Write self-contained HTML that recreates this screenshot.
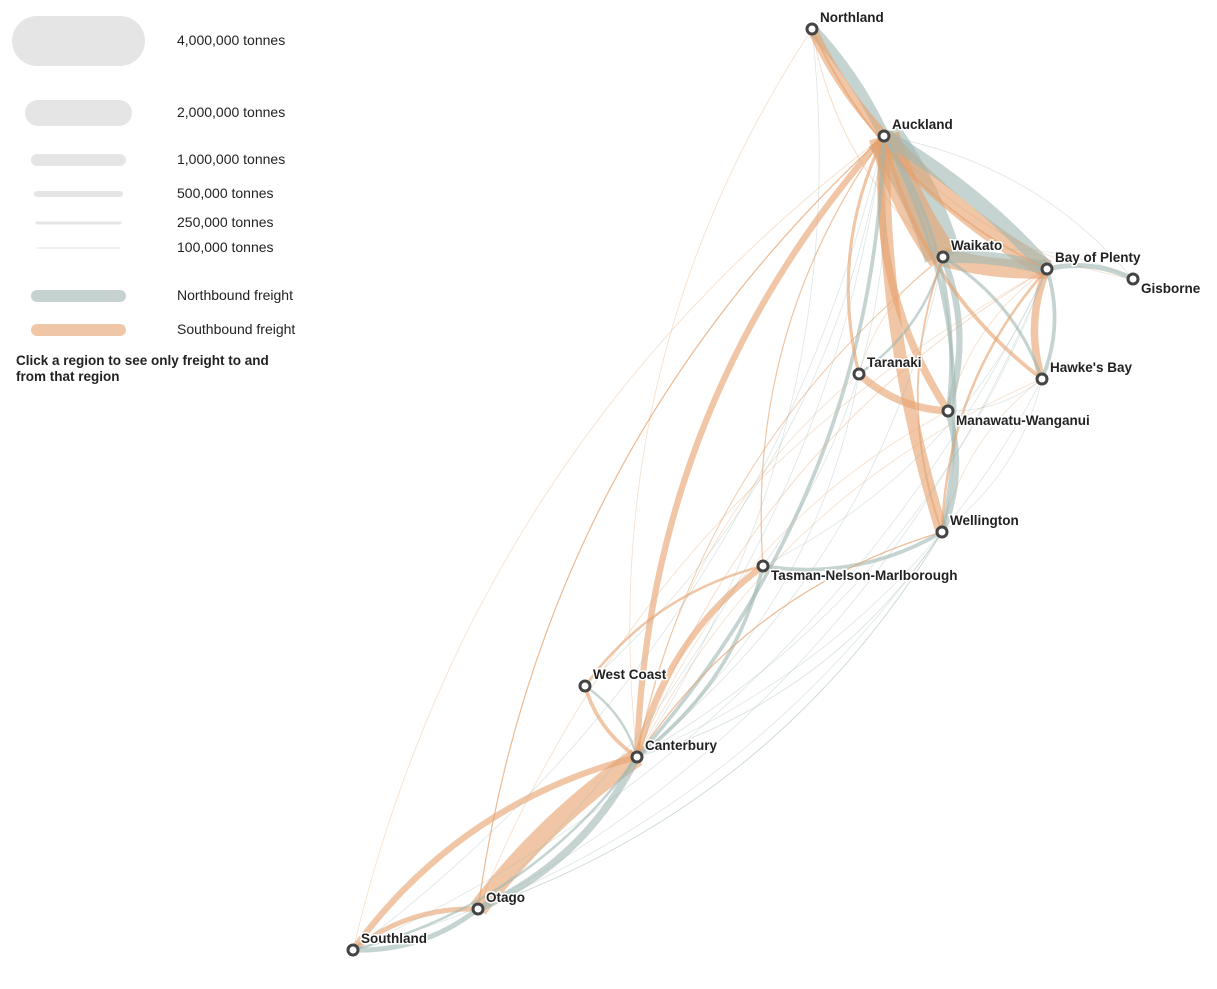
<!DOCTYPE html>
<html><head><meta charset="utf-8"><style>
body{margin:0;background:#fff;font-family:"Liberation Sans",Arial,sans-serif;}
svg{display:block}
.lt{font-size:14px;fill:#222}
.nl{font-size:13.5px;font-weight:bold;fill:#222;paint-order:stroke;stroke:#fff;stroke-width:3px}
</style></head><body>
<svg id="map" width="1217" height="989">
<g>
<line x1="37" y1="41" x2="120" y2="41" stroke="#e5e5e5" stroke-width="50" stroke-linecap="round"/>
<text class="lt" x="177" y="45">4,000,000 tonnes</text>
<line x1="38" y1="113" x2="119" y2="113" stroke="#e5e5e5" stroke-width="26" stroke-linecap="round"/>
<text class="lt" x="177" y="117">2,000,000 tonnes</text>
<line x1="37" y1="160" x2="120" y2="160" stroke="#e5e5e5" stroke-width="12" stroke-linecap="round"/>
<text class="lt" x="177" y="164">1,000,000 tonnes</text>
<line x1="37" y1="194" x2="120" y2="194" stroke="#e5e5e5" stroke-width="6" stroke-linecap="round"/>
<text class="lt" x="177" y="198">500,000 tonnes</text>
<line x1="37" y1="223" x2="120" y2="223" stroke="#e5e5e5" stroke-width="3" stroke-linecap="round"/>
<text class="lt" x="177" y="227">250,000 tonnes</text>
<line x1="37" y1="248" x2="120" y2="248" stroke="#ececec" stroke-width="1.5"/>
<text class="lt" x="177" y="252">100,000 tonnes</text>
<line x1="37" y1="296" x2="120" y2="296" stroke="#c6d2d0" stroke-width="12" stroke-linecap="round"/>
<text class="lt" x="177" y="300">Northbound freight</text>
<line x1="37" y1="330" x2="120" y2="330" stroke="#efc6a6" stroke-width="12" stroke-linecap="round"/>
<text class="lt" x="177" y="334">Southbound freight</text>
<text x="16" y="365" style="font-size:13.5px;font-weight:bold;fill:#222">Click a region to see only freight to and</text>
<text x="16" y="381" style="font-size:13.5px;font-weight:bold;fill:#222">from that region</text>
</g>
<g id="flows"></g>
<g id="nodes"></g>
</svg>
<script>
const regions=["Northland","Auckland","Waikato","Bay of Plenty","Gisborne","Taranaki","Hawke's Bay","Manawatu-Wanganui","Wellington","Tasman-Nelson-Marlborough","West Coast","Canterbury","Otago","Southland"];
const regionX=[812,884,943,1047,1133,859,1042,948,942,763,585,637,478,353];
const regionY=[29,136,257,269,279,374,379,411,532,566,686,757,909,950];
const labelBelow=[0,0,0,0,1,0,0,1,0,1,0,0,0,0];
const flowFrom=[2,1,3,1,2,3,0,1,1,8,1,7,8,3,6,4,5,1,11,11,12,11,13,12,13,9,11,9,10,11,9,0,1,1,3,2,5,6,7,1,8,2,1,11,12,3,4,1,0,1,13, 1,12,11,8,11,12,11,6,2,13,9,11,13,3,11,7,12,9,10,0,5,6,4,2,7,8,3];
const flowTo  =[1,2,1,3,3,2,1,0,8,1,7,2,7,6,3,3,7,11,1,12,11,13,11,13,12,11,9,8,11,10,10,3,6,5,8,8,2,2,1,9,11,11,12,8,8,11,1,13,2,4,1, 12,1,3,11,6,8,2,11,11,3,1,5,8,12,0,11,3,3,1,11,11,8,2,5,6,6,7];
const flowTonnes=[3000000,2500000,1200000,1500000,1500000,1000000,800000,900000,1000000,300000,600000,500000,500000,600000,300000,400000,600000,500000,300000,1500000,600000,500000,200000,400000,400000,500000,300000,300000,300000,200000,200000,150000,300000,250000,200000,150000,200000,250000,300000,100000,100000,80000,100000,80000,60000,80000,60000,60000,80000,60000,50000, 60000,50000,50000,60000,40000,40000,50000,40000,40000,30000,40000,40000,30000,30000,30000,40000,30000,40000,30000,30000,40000,60000,40000,50000,60000,50000,60000];
const g=document.getElementById('flows');
const ns="http://www.w3.org/2000/svg";
const idx=flowTonnes.map((t,i)=>i).sort((a,b)=>flowTonnes[b]-flowTonnes[a]);
idx.forEach(i=>{
 const a=flowFrom[i],b=flowTo[i];
 const x1=regionX[a],y1=regionY[a],x2=regionX[b],y2=regionY[b];
 const dx=x2-x1,dy=y2-y1;
 const k=flowTonnes[i]>=700000?0.08:0.18;
 const cx=(x1+x2)/2-dy*k,cy=(y1+y2)/2+dx*k;
 const p=document.createElementNS(ns,'path');
 p.setAttribute('d',`M${x1},${y1} Q${cx},${cy} ${x2},${y2}`);
 const south=y2>y1;
 p.setAttribute('fill','none');
 p.setAttribute('stroke',south?'#e6a06b':'#9fb7b3');
 p.setAttribute('stroke-opacity',flowTonnes[i]<100000?'0.35':'0.6');
 p.setAttribute('stroke-width',Math.max(0.8,flowTonnes[i]/80000));
 
 
 g.appendChild(p);
});
const ng=document.getElementById('nodes');
regions.forEach((r,i)=>{
 const c=document.createElementNS(ns,'circle');
 c.setAttribute('cx',regionX[i]);c.setAttribute('cy',regionY[i]);c.setAttribute('r',5);
 c.setAttribute('fill','#fff');c.setAttribute('stroke','#444');c.setAttribute('stroke-width',3);
 
 
 ng.appendChild(c);
 const t=document.createElementNS(ns,'text');
 t.setAttribute('x',regionX[i]+8);
 t.setAttribute('y',labelBelow[i]?regionY[i]+14:regionY[i]-7);
 t.setAttribute('class','nl');t.textContent=r;
 
 
 ng.appendChild(t);
});
</script>
</body></html>
